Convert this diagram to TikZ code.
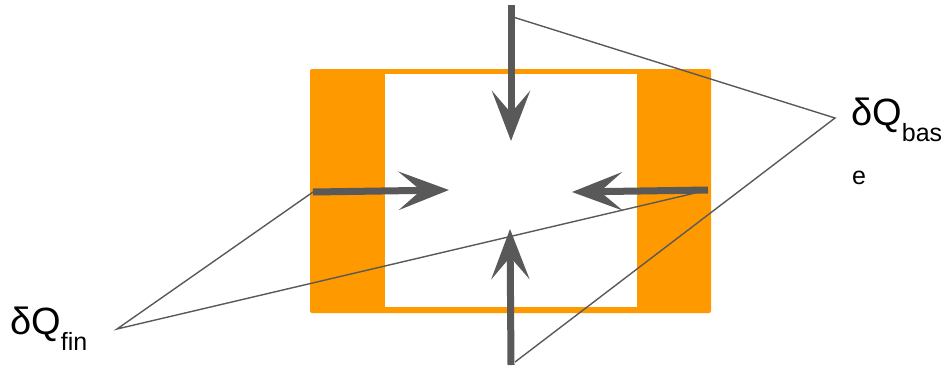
\documentclass[tikz,border=0pt]{standalone}
\usepackage{fontspec}
\setmainfont{Liberation Sans}
\usetikzlibrary{arrows.meta}

\definecolor{fluxgray}{HTML}{595959}
\definecolor{finorange}{HTML}{FF9900}

\tikzset{
  flux/.style={line width=7pt, draw=fluxgray, -{Stealth[length=50pt, width=38pt, inset=22pt]}},
  leader/.style={line width=1.4pt, draw=fluxgray},
  qlabel/.style={font=\fontsize{38}{42}\selectfont, inner sep=0pt, anchor=base west}
}
\newcommand{\qsub}[1]{\raisebox{-16pt}{\fontsize{25}{25}\selectfont #1}}

\begin{document}
\begin{tikzpicture}[x=1pt, y=-1pt]
  \useasboundingbox (0,0) rectangle (945,368);

  % fin block
  \fill[finorange, rounded corners=2pt] (310,69) rectangle (711,313);
  \fill[white] (385,74) rectangle (637,307);

  % arrow ends
  \coordinate (topS) at (511,5);
  \coordinate (topT) at (511,141);
  \coordinate (botS) at (511,365);
  \coordinate (botT) at (510,229);
  \coordinate (leftS) at (313,192);
  \coordinate (leftT) at (449,190);
  \coordinate (rightS) at (708,190);
  \coordinate (rightT) at (572,192);

  \draw[flux] (topS) -- (topT);
  \draw[flux] (botS) -- (botT);
  \draw[flux] (leftS) -- (leftT);
  \draw[flux] (rightS) -- (rightT);

  % labels
  \node[qlabel] (qbase) at (851,125) {δQ\qsub{bas}};
  \node[font=\fontsize{25}{25}\selectfont, inner sep=0pt, anchor=base west] (qbaseE) at (852,184) {e};
  \node[qlabel] (qfin) at (10,334) {δQ\qsub{fin}};

  \coordinate (baseTip) at (835,118);
  \coordinate (finTip) at (117,329);
  \coordinate (topFoot) at (513,17);
  \coordinate (botFoot) at (515,362);

  % leader lines
  \draw[leader] (topFoot) -- (baseTip) -- (botFoot);
  \draw[leader] (leftS) -- (finTip) -- (rightS);
\end{tikzpicture}
\end{document}
